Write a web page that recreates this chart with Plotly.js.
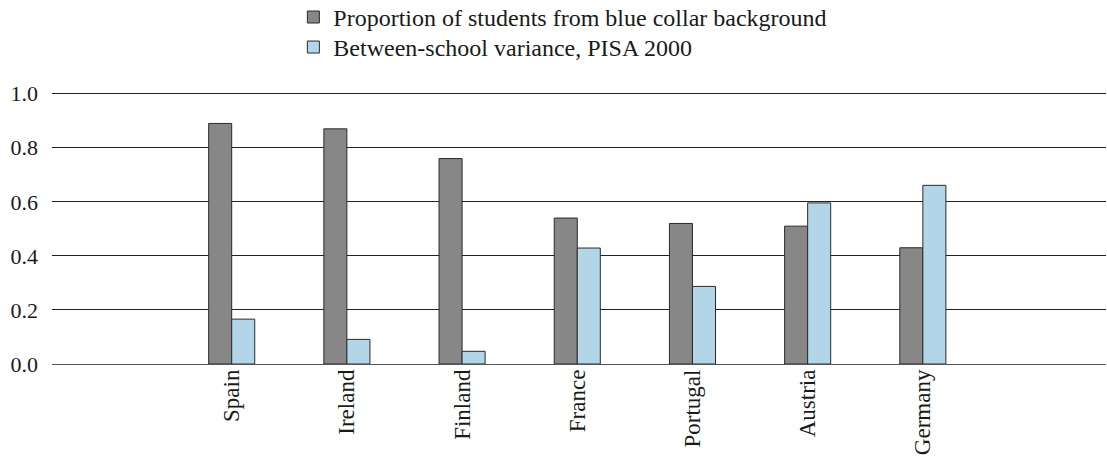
<!DOCTYPE html>
<html>
<head>
<meta charset="utf-8">
<script src="https://cdn.plot.ly/plotly-3.0.1.min.js"></script>
<style>html,body{margin:0;padding:0;background:#fff;}#chart{width:1107px;height:462px;}</style>
</head>
<body>
<div id="chart"></div>
<script>
const countries = ["Spain", "Ireland", "Finland", "France", "Portugal", "Austria", "Germany"];
const blueCollar = [0.89, 0.87, 0.76, 0.54, 0.52, 0.51, 0.43];
const betweenSchool = [0.166, 0.091, 0.047, 0.429, 0.287, 0.596, 0.661];
const seriesNames = ["Proportion of students from blue collar background", "Between-school variance, PISA 2000"];
const yTicks = [0, 0.2, 0.4, 0.6, 0.8, 1.0];
const yTickText = ["0.0", "0.2", "0.4", "0.6", "0.8", "1.0"];

const FONT = "Liberation Serif, DejaVu Serif, serif";

const traces = [
  {type: "bar", x: countries, y: blueCollar, name: seriesNames[0], legend: "legend",
   marker: {color: "#878787", line: {color: "#2a2a2a", width: 1}}},
  {type: "bar", x: countries, y: betweenSchool, name: seriesNames[1], legend: "legend2",
   marker: {color: "#b3d5e8", line: {color: "#2a2a2a", width: 1}}}
];

const legendFont = {family: FONT, size: 24, color: "#1a1a1a"};

const layout = {
  width: 1107, height: 462,
  margin: {l: 52, r: 1, t: 91, b: 98, autoexpand: false},
  paper_bgcolor: "#fff", plot_bgcolor: "#fff",
  font: {family: FONT, size: 22, color: "#1a1a1a"},
  barmode: "group", bargap: 0.6, bargroupgap: 0,
  showlegend: true,
  legend: {x: 0.229, xanchor: "left", y: 1.352, yanchor: "top",
           font: legendFont, bgcolor: "rgba(0,0,0,0)"},
  legend2: {x: 0.229, xanchor: "left", y: 1.242, yanchor: "top",
           font: legendFont, bgcolor: "rgba(0,0,0,0)"},
  xaxis: {type: "category", range: [-1.56, 7.59], tickangle: -90,
          showgrid: false, zeroline: false, showline: false, ticks: "",
          tickfont: {family: FONT, size: 23, color: "#1a1a1a"}, fixedrange: true},
  yaxis: {range: [0, 1.01], tickvals: yTicks, ticktext: yTickText,
          showgrid: true, gridcolor: "#222", gridwidth: 1,
          zeroline: true, zerolinecolor: "#555", zerolinewidth: 1,
          showline: false, ticks: "", ticklabelstandoff: 13,
          tickfont: {family: FONT, size: 22, color: "#1a1a1a"}, fixedrange: true}
};

Plotly.newPlot("chart", traces, layout, {displayModeBar: false, staticPlot: true});
</script>
</body>
</html>
